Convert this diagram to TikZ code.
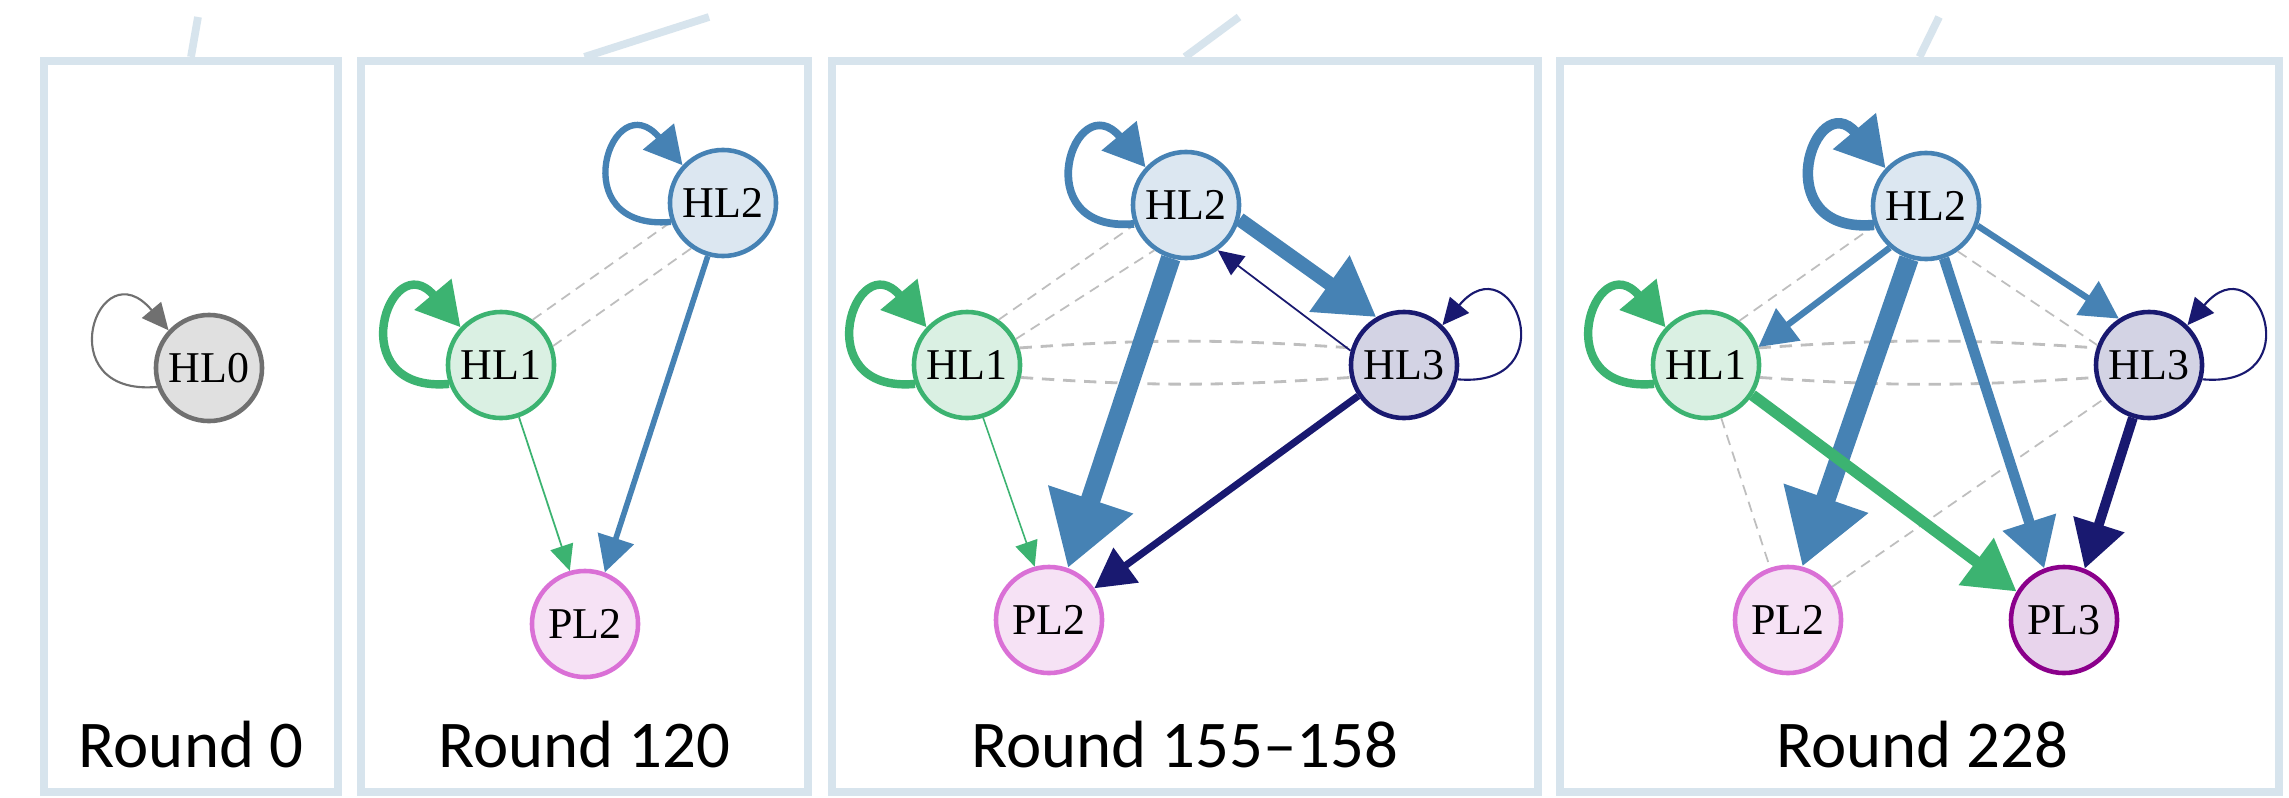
\documentclass[tikz,border=0pt]{standalone}
\usepackage{fontspec}
\usepackage{tikz}
\usetikzlibrary{arrows.meta}
\newfontfamily\capfont{Carlito}
\newfontfamily\layerfont{Liberation Serif}
\definecolor{framec}{RGB}{215,228,237}
\definecolor{grayd}{RGB}{112,112,112}
\definecolor{grayf}{RGB}{224,224,224}
\definecolor{greend}{RGB}{60,179,113}
\definecolor{greenf}{RGB}{218,240,227}
\definecolor{steel}{RGB}{70,130,180}
\definecolor{steelf}{RGB}{220,231,241}
\definecolor{navyd}{RGB}{25,25,112}
\definecolor{navyf}{RGB}{211,211,228}
\definecolor{orchid}{RGB}{218,112,214}
\definecolor{orchidf}{RGB}{246,226,245}
\definecolor{plum}{RGB}{139,0,139}
\definecolor{plumf}{RGB}{232,212,236}
\definecolor{tiec}{RGB}{190,190,190}

\tikzset{
  panel/.style={draw=framec, line width=2.2pt, inner sep=0pt, minimum height=7.31cm},
  link/.style={draw=framec, line width=2.2pt},
  caption/.style={font=\capfont\fontsize{19}{23}\selectfont, anchor=base},
  layer/.style={circle, minimum size=1.06cm, inner sep=0pt, line width=1.3pt,
    font=\layerfont\fontsize{12.5}{14}\selectfont},
  grayl/.style={layer, draw=grayd, fill=grayf},
  greenl/.style={layer, draw=greend, fill=greenf},
  bluel/.style={layer, draw=steel, fill=steelf},
  navyl/.style={layer, draw=navyd, fill=navyf},
  pinkl/.style={layer, draw=orchid, fill=orchidf},
  purpl/.style={layer, draw=plum, fill=plumf},
  flow/.style={line width=#1, -{Triangle[length=6pt 2.6, width=5pt 3.4]}},
  tie/.style={tiec, line width=0.5pt, dash pattern=on 3pt off 2pt},
  wtie/.style={tiec, line width=0.8pt, dash pattern=on 3.5pt off 2.5pt},
}

\begin{document}
\begin{tikzpicture}[x=0.01cm,y=-0.01cm]
    \useasboundingbox (0,0) rectangle (2289,797);
    \fill[white] (0,0) rectangle (2289,797);

    % frames and links to the overview above
    \node[panel, minimum width=2.94cm] (f1) at (191,426.5) {};
    \node[panel, minimum width=4.47cm] (f2) at (584.5,426.5) {};
    \node[panel, minimum width=7.06cm] (f3) at (1185,426.5) {};
    \node[panel, minimum width=7.19cm] (f4) at (1919.5,426.5) {};
    \coordinate (t1) at (198,17);
    \coordinate (t2) at (709,17);
    \coordinate (t3) at (1239,17);
    \coordinate (t4) at (1939,17);
    \draw[link] (f1.north) -- (t1);
    \draw[link] (f2.north) -- (t2);
    \draw[link] (f3.north) -- (t3);
    \draw[link] (f4.north) -- (t4);

    % captions
    \node[caption] (c1) at ([yshift=0.29cm]f1.south) {Round 0};
    \node[caption] (c2) at ([yshift=0.29cm]f2.south) {Round 120};
    \node[caption] (c3) at ([yshift=0.29cm]f3.south) {Round 155–158};
    \node[caption] (c4) at ([xshift=0.03cm,yshift=0.29cm]f4.south) {Round 228};

    % round 0
    \node[grayl] (r0hl0) at (209,368) {HL0};
    \draw[flow=0.6pt, grayd] (r0hl0.200) .. controls +(185:1.1cm) and +(130:1.1cm) .. (r0hl0.137);

    % round 120
    \node[greenl] (r120hl1) at (501,365) {HL1};
    \node[bluel] (r120hl2) at (723,203) {HL2};
    \node[pinkl] (r120pl2) at (585,624) {PL2};
    \draw[tie] (r120hl1.55) -- (r120hl2.200);
    \draw[tie] (r120hl1.20) -- (r120hl2.235);
    \draw[flow=1.8pt, steel] (r120hl2.200) .. controls +(185:1.1cm) and +(130:1.1cm) .. (r120hl2.137);
    \draw[flow=2.4pt, greend] (r120hl1.200) .. controls +(185:1.1cm) and +(130:1.1cm) .. (r120hl1.137);
    \draw[flow=0.5pt, greend] (r120hl1.-71) -- (r120pl2.106);
    \draw[flow=1.6pt, steel] (r120hl2.254) -- (r120pl2.69);

    % round 155-158
    \node[greenl] (r155hl1) at (967,365) {HL1};
    \node[bluel] (r155hl2) at (1186,205) {HL2};
    \node[navyl] (r155hl3) at (1404,365) {HL3};
    \node[pinkl] (r155pl2) at (1049,620) {PL2};
    \draw[tie] (r155hl1.55) -- (r155hl2.201);
    \draw[tie] (r155hl1.28) -- (r155hl2.235);
    \draw[wtie] (r155hl1.18) to[bend left=4] (r155hl3.162);
    \draw[wtie] (r155hl1.-13) to[bend right=4] (r155hl3.193);
    \draw[flow=2.2pt, steel] (r155hl2.200) .. controls +(185:1.1cm) and +(130:1.1cm) .. (r155hl2.137);
    \draw[flow=2.4pt, greend] (r155hl1.200) .. controls +(185:1.1cm) and +(130:1.1cm) .. (r155hl1.137);
    \draw[flow=0.6pt, navyd] (r155hl3.-15) .. controls +(-5:1.1cm) and +(50:1.1cm) .. (r155hl3.46);
    \draw[flow=5.6pt, steel] (r155hl2.254) -- (r155pl2.70);
    \draw[flow=4pt, steel] (r155hl2.-15) -- (r155hl3.120);
    \draw[flow=0.5pt, navyd] (r155hl3.165) -- (r155hl2.-55);
    \draw[flow=2pt, navyd] (r155hl3.214) -- (r155pl2.35);
    \draw[flow=0.45pt, greend] (r155hl1.-73) -- (r155pl2.105);

    % round 228
    \node[greenl] (r228hl1) at (1706,365) {HL1};
    \node[bluel] (r228hl2) at (1926,206) {HL2};
    \node[navyl] (r228hl3) at (2149,365) {HL3};
    \node[pinkl] (r228pl2) at (1788,620) {PL2};
    \node[purpl] (r228pl3) at (2064,620) {PL3};
    \draw[tie] (r228hl1.53) -- (r228hl2.201);
    \draw[tie] (r228hl2.-55) -- (r228hl3.159);
    \draw[wtie] (r228hl1.18) to[bend left=4] (r228hl3.162);
    \draw[wtie] (r228hl1.-13) to[bend right=4] (r228hl3.193);
    \draw[tie] (r228hl1.-74) -- (r228pl2.109);
    \draw[tie] (r228pl2.37) -- (r228hl3.217);
    \draw[flow=3pt, steel] (r228hl2.200) .. controls +(185:1.1cm) and +(130:1.1cm) .. (r228hl2.137);
    \draw[flow=2.4pt, greend] (r228hl1.200) .. controls +(185:1.1cm) and +(130:1.1cm) .. (r228hl1.137);
    \draw[flow=0.6pt, navyd] (r228hl3.-15) .. controls +(-5:1.1cm) and +(50:1.1cm) .. (r228hl3.46);
    \draw[flow=1.8pt, steel] (r228hl2.229) -- (r228hl1.19);
    \draw[flow=1.8pt, steel] (r228hl2.-21) -- (r228hl3.123);
    \draw[flow=5.6pt, steel] (r228hl2.252) -- (r228pl2.75);
    \draw[flow=3pt, steel] (r228hl2.-71) -- (r228pl3.111);
    \draw[flow=3.2pt, greend] (r228hl1.-33) -- (r228pl3.149);
    \draw[flow=2.8pt, navyd] (r228hl3.253) -- (r228pl3.68);
\end{tikzpicture}
\end{document}
